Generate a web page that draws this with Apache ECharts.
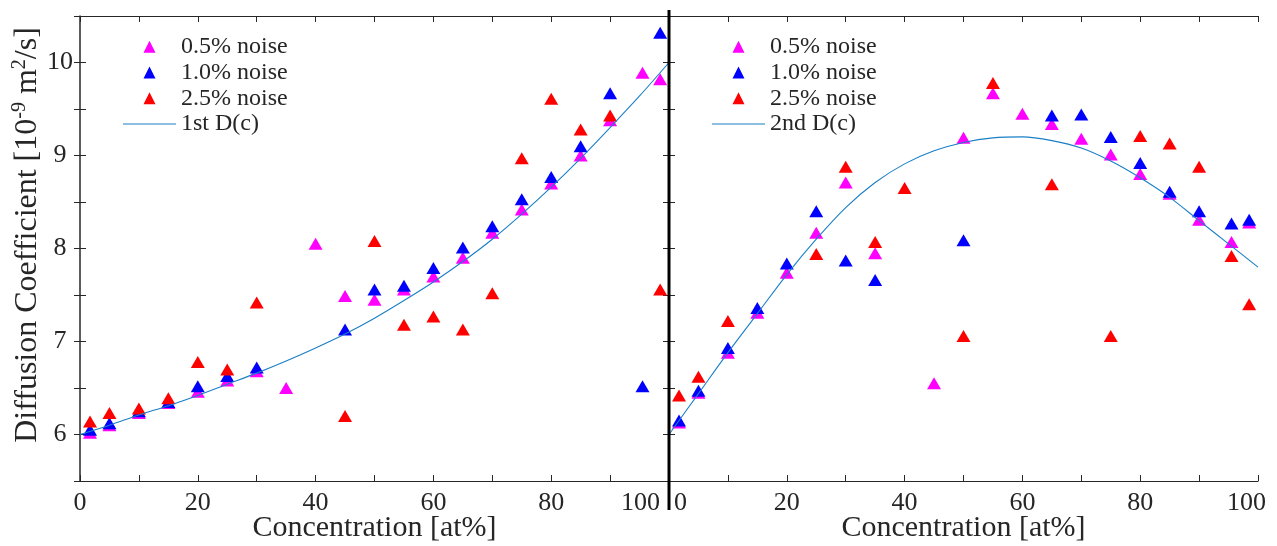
<!DOCTYPE html>
<html>
<head>
<meta charset="utf-8">
<script src="https://cdn.jsdelivr.net/npm/echarts@6/dist/echarts.min.js"></script>
<style>
  html, body { margin: 0; padding: 0; background: #fff; }
  #chart { width: 1277px; height: 546px; }
</style>
</head>
<body>
<div id="chart"></div>
<script>
// Concentration grid shared by every noisy data set [at%]
const conc = [1.7, 5, 10, 15, 20, 25, 30, 35, 40, 45, 50, 55, 60, 65, 70, 75, 80, 85, 90, 95.5, 98.5];

// First diffusion profile, identified points (null = not shown)
const first05 = [6.02, 6.10, 6.23, 6.34, 6.46, 6.58, 6.68, 6.50, 8.05, 7.49, 7.45, 7.56, 7.70, 7.90, 8.17, 8.42, 8.70, 9.00, 9.38, 9.89, 9.82];
const first10 = [6.05, 6.12, 6.25, 6.35, 6.52, 6.63, 6.72, null, null, 7.13, 7.56, 7.60, 7.79, 8.01, 8.24, 8.53, 8.77, 9.10, 9.67, 6.52, 10.32];
const first25 = [6.14, 6.23, 6.28, 6.39, 6.78, 6.70, 7.42, null, null, 6.20, 8.08, 7.18, 7.27, 7.13, 7.52, 8.97, 9.61, 9.28, 9.43, null, 7.56];

// Second diffusion profile, identified points
const second05 = [6.13, 6.45, 6.88, 7.31, 7.74, 8.17, 8.71, 7.95, null, 6.55, 9.19, 9.67, 9.45, 9.34, 9.18, 9.01, 8.80, 8.59, 8.31, 8.07, 8.28];
const second10 = [6.15, 6.47, 6.93, 7.36, 7.84, 8.40, 7.87, 7.66, null, null, 8.09, null, null, 9.43, 9.44, 9.20, 8.92, 8.61, 8.40, 8.27, 8.31];
const second25 = [6.42, 6.62, 7.22, null, null, 7.94, 8.88, 8.07, 8.65, null, 7.06, 9.78, null, 8.69, null, 7.06, 9.21, 9.13, 8.88, 7.92, 7.40];

// True D(c) curves
const curveConc = [0, 5, 10, 15, 20, 25, 30, 35, 40, 45, 50, 55, 60, 65, 70, 75, 80, 85, 90, 95, 100];
const curveFirst = [6.00, 6.10, 6.21, 6.31, 6.42, 6.54, 6.66, 6.79, 6.93, 7.08, 7.25, 7.44, 7.64, 7.86, 8.10, 8.37, 8.66, 8.97, 9.30, 9.64, 10.00];
const curveSecond = [6.00, 6.44, 6.88, 7.30, 7.72, 8.10, 8.44, 8.71, 8.91, 9.05, 9.14, 9.19, 9.20, 9.16, 9.08, 8.94, 8.76, 8.55, 8.30, 8.05, 7.80];

const xTickLabels = [0, 20, 40, 60, 80, 100];
const yTickLabels = [6, 7, 8, 9, 10];

const seriesNames = ['0.5% noise', '1.0% noise', '2.5% noise'];
const seriesColors = ['#ff00ff', '#0000ff', '#ff0000'];

const FONT = 'Liberation Serif';
const INK = '#262626';
const CURVE = '#1a7fc6';

// legend glyphs sized to the 53 x 12 legend slot: a centred triangle, and a thin bar for the curves
const TRI_ICON = 'path://M26.5,0L32.5,12L20.5,12Z M0,6L53,6';
const LINE_ICON = 'path://M0,5.45L53,5.45L53,6.55L0,6.55Z M0,0L0,12';

function pairs(xs, ys) {
  const out = [];
  xs.forEach((x, i) => { if (ys[i] !== null) out.push([x, ys[i]]); });
  return out;
}

function scatter(name, color, ys, idx) {
  return {
    type: 'scatter', name, xAxisIndex: idx, yAxisIndex: idx,
    data: pairs(conc, ys), symbol: 'triangle', symbolSize: [14, 12],
    itemStyle: { color, opacity: 1 }, z: 2
  };
}

function curve(name, ys, idx) {
  return {
    type: 'line', name, xAxisIndex: idx, yAxisIndex: idx,
    data: pairs(curveConc, ys), smooth: 0.3, showSymbol: false, symbol: 'none',
    lineStyle: { color: CURVE, width: 1.1 }, itemStyle: { color: CURVE }, z: 3
  };
}

const tickBase = { show: true, inside: true, length: 6, lineStyle: { color: INK, width: 1 } };

function xLabelFormatter(shiftMin, shiftMax) {
  return v => {
    if (!xTickLabels.includes(v)) return '';
    if (v === 0 && shiftMin) return '{l|' + v + '}';
    if (v === 100 && shiftMax) return '{r|' + v + '}';
    return String(v);
  };
}

function bottomAxis(gridIndex, shiftMin, padMax) {
  return {
    type: 'value', gridIndex, min: 0, max: 100, interval: 10, position: 'bottom',
    name: 'Concentration [at%]', nameLocation: 'middle', nameGap: 32, nameMoveOverlap: false,
    nameTextStyle: { fontFamily: FONT, fontSize: 30, color: INK },
    axisLine: { lineStyle: { color: INK, width: 1.2 } },
    axisTick: tickBase,
    splitLine: { show: false },
    axisLabel: {
      fontFamily: FONT, fontSize: 26, color: INK, margin: 9,
      formatter: xLabelFormatter(shiftMin, padMax > 0),
      rich: {
        l: { fontFamily: FONT, fontSize: 26, color: INK, padding: [0, 0, 0, 23] },
        r: { fontFamily: FONT, fontSize: 26, color: INK, padding: [0, padMax, 0, 0] }
      }
    }
  };
}

function topAxis(gridIndex) {
  return {
    type: 'value', gridIndex, min: 0, max: 100, interval: 10, position: 'top',
    axisLine: { lineStyle: { color: INK, width: 1.2 } },
    axisTick: tickBase, axisLabel: { show: false }, splitLine: { show: false }
  };
}

function yAxisSide(gridIndex, position, lineOpt, withLabels) {
  const ax = {
    type: 'value', gridIndex, min: 5.5, max: 10.5, interval: 0.5, position,
    axisLine: lineOpt, axisTick: tickBase, splitLine: { show: false },
    axisLabel: { show: false }
  };
  if (withLabels) {
    ax.axisLabel = {
      show: true, fontFamily: FONT, fontSize: 26, color: INK, align: 'center', margin: 20,
      formatter: v => (yTickLabels.includes(Math.round(v)) && Math.abs(v - Math.round(v)) < 1e-6) ? String(Math.round(v)) : ''
    };
    ax.name = '{a|Diffusion Coefficient [10}{s|-9}{a| m}{s|2}{a|/s]}';
    ax.nameLocation = 'middle';
    ax.nameGap = 34;
    ax.nameMoveOverlap = false;
    ax.nameTextStyle = {
      color: INK,
      rich: {
        a: { fontFamily: FONT, fontSize: 32, color: INK, lineHeight: 36 },
        s: { fontFamily: FONT, fontSize: 20, color: INK, lineHeight: 20, verticalAlign: 'top' }
      },
      padding: [0, 0, 0, 27]
    };
  }
  return ax;
}

function legend(left, lineName) {
  return {
    orient: 'vertical', left, top: 34, padding: 0,
    itemWidth: 53, itemHeight: 12, itemGap: 0, selectedMode: false,
    data: [
      ...seriesNames.map(n => ({ name: n, icon: TRI_ICON })),
      { name: lineName, icon: LINE_ICON, itemStyle: { color: CURVE } }
    ],
    textStyle: { fontFamily: FONT, fontSize: 24, color: INK, lineHeight: 25.7 }
  };
}

const option = {
  animation: false,
  backgroundColor: '#ffffff',
  grid: [
    { left: 80, top: 16, width: 589, height: 465, outerBoundsMode: 'none', containLabel: false },
    { left: 669, top: 16, width: 589, height: 465, outerBoundsMode: 'none', containLabel: false }
  ],
  legend: [legend(123, '1st D(c)'), legend(712, '2nd D(c)')],
  xAxis: [
    bottomAxis(0, false, 57), bottomAxis(1, true, 23),
    topAxis(0), topAxis(1)
  ],
  yAxis: [
    yAxisSide(0, 'left', { lineStyle: { color: INK, width: 1.5 } }, true),
    yAxisSide(1, 'right', { lineStyle: { color: '#7f7f7f', width: 2 } }, false),
    yAxisSide(0, 'right', { show: false }, false),
    yAxisSide(1, 'left', { show: false }, false)
  ],
  series: [
    scatter(seriesNames[0], seriesColors[0], first05, 0),
    scatter(seriesNames[1], seriesColors[1], first10, 0),
    scatter(seriesNames[2], seriesColors[2], first25, 0),
    curve('1st D(c)', curveFirst, 0),
    scatter(seriesNames[0], seriesColors[0], second05, 1),
    scatter(seriesNames[1], seriesColors[1], second10, 1),
    scatter(seriesNames[2], seriesColors[2], second25, 1),
    curve('2nd D(c)', curveSecond, 1)
  ],
  graphic: [
    { type: 'line', z: 10, shape: { x1: 669, y1: 10, x2: 669, y2: 510 }, style: { stroke: '#000', lineWidth: 3 } }
  ]
};

echarts.init(document.getElementById('chart'), null, { renderer: 'canvas' }).setOption(option);
</script>
</body>
</html>
